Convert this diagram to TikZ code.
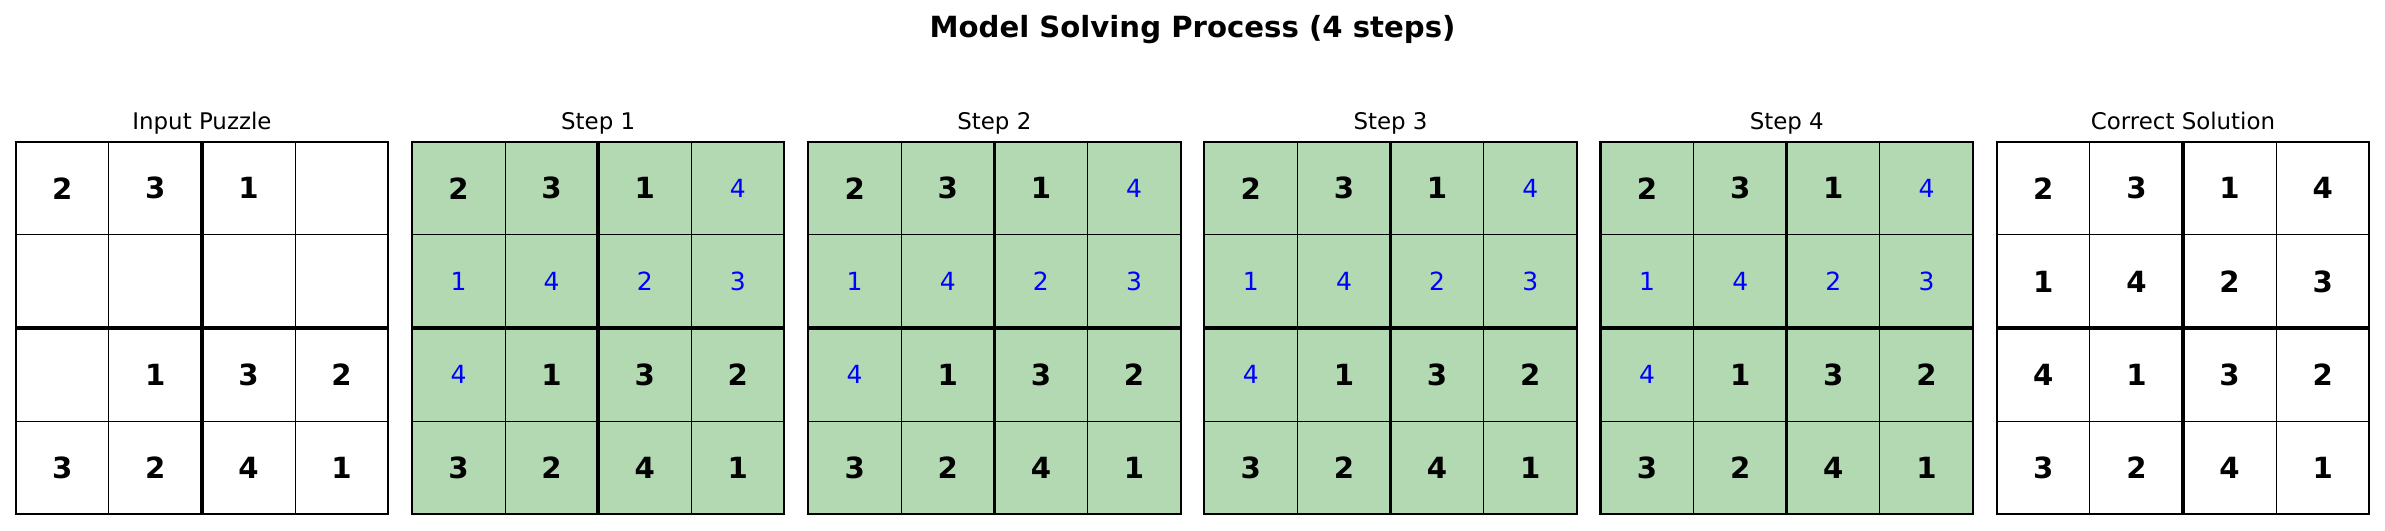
\documentclass[tikz,border=0pt]{standalone}
\usepackage{fontspec}
\setmainfont{DejaVu Sans}
\definecolor{cellgreen}{RGB}{179,217,179}
\tikzset{
  given/.style={font=\fontsize{14}{14}\selectfont\bfseries, text=black, inner sep=0pt},
  guess/.style={font=\fontsize{12}{12}\selectfont, text=blue, inner sep=0pt},
  paneltitle/.style={font=\fontsize{11}{11}\selectfont, anchor=base, inner sep=0pt},
  thinline/.style={draw=black, line width=0.5pt},
  boxline/.style={draw=black, line width=1.6pt},
}
\begin{document}
\begin{tikzpicture}[x=0.48pt, y=-0.48pt]
    \useasboundingbox (0,0) rectangle (2385,530);

    \node[font=\fontsize{14}{14}\selectfont\bfseries, anchor=base, inner sep=0pt] (title) at (1192.5,37) {Model Solving Process (4 steps)};

    % panels: frame, cell lines, box lines
    \foreach \p/\lab/\col in {0/Input Puzzle/white, 1/Step 1/cellgreen, 2/Step 2/cellgreen, 3/Step 3/cellgreen, 4/Step 4/cellgreen, 5/Correct Solution/white} {
        \pgfmathsetmacro\xo{15.7+396.2*\p}
        \fill[\col] (\xo,141.7) rectangle ++(372.5,372.5);
        \foreach \k in {1,3} {
            \draw[thinline] (\xo+93.125*\k,141.7) -- ++(0,372.5);
            \draw[thinline] (\xo,141.7+93.125*\k) -- ++(372.5,0);
        }
        \draw[boxline] (\xo+186.25,141.7) -- ++(0,372.5);
        \draw[boxline] (\xo,327.95) -- ++(372.5,0);
        \draw[line width=1pt] (\xo,141.7) rectangle ++(372.5,372.5);
        \node[paneltitle] (head\p) at (\xo+186.25,129) {\lab};

        % clues of the puzzle
        \foreach \r/\c/\v in {0/0/2, 0/1/3, 0/2/1, 2/1/1, 2/2/3, 2/3/2, 3/0/3, 3/1/2, 3/2/4, 3/3/1}
            \node[given] (c\p-\r\c) at (\xo+46.5625+93.125*\c,188.26+93.125*\r) {\v};
    }

    % cells filled in by the model, and in the solution
    \foreach \p/\sty in {1/guess, 2/guess, 3/guess, 4/guess, 5/given} {
        \pgfmathsetmacro\xo{15.7+396.2*\p}
        \foreach \r/\c/\v in {0/3/4, 1/0/1, 1/1/4, 1/2/2, 1/3/3, 2/0/4}
            \node[\sty] (c\p-\r\c) at (\xo+46.5625+93.125*\c,188.26+93.125*\r) {\v};
    }

\end{tikzpicture}
\end{document}
